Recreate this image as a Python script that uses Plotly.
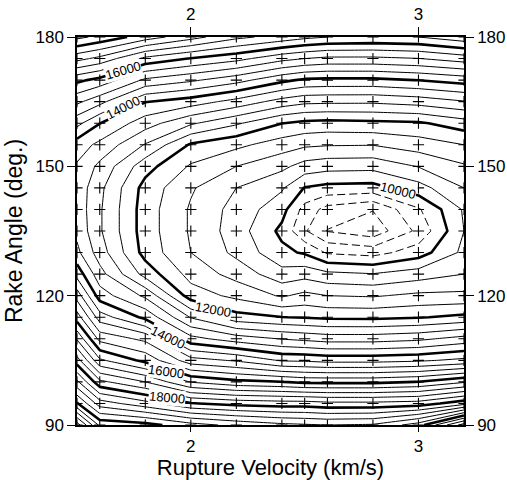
import plotly.graph_objects as go

# Grid-search misfit over rupture velocity and rake angle
velocity = [1.5, 1.6, 1.8, 2.0, 2.2, 2.4, 2.5, 2.6, 2.8, 3.0, 3.2]   # km/s
rake = [90, 95, 100, 105, 110, 115, 120, 125, 130, 135,
        140, 145, 150, 155, 160, 165, 170, 175, 180]                  # deg.

# misfit[i][j]: rake[i], velocity[j]
misfit = [
    [21800, 20300, 20150, 19750, 19500, 19300, 19250, 19200, 19250, 19800, 21400],  # 90
    [20050, 19000, 18550, 18030, 17860, 17790, 17790, 17710, 17710, 17780, 18250],  # 95
    [18890, 17700, 17200, 16370, 16110, 16010, 15900, 15900, 15900, 16010, 16350],  # 100
    [17780, 16470, 15880, 14960, 14750, 14350, 14330, 14260, 14260, 14330, 14500],  # 105
    [16750, 15470, 15100, 13730, 13400, 13180, 13100, 13020, 13020, 13110, 13350],  # 110
    [15800, 14600, 13900, 12770, 12150, 12010, 11970, 11920, 11910, 11970, 12100],  # 115
    [15020, 13800, 13120, 11800, 11500, 11150, 11310, 11200, 11160, 11290, 11300],  # 120
    [14250, 13350, 12250, 11450, 11050, 10550, 10650, 10500, 10420, 10600, 10800],  # 125
    [13700, 13000, 11850, 11200, 10700, 10100, 9950, 9550, 9450, 9800, 10500],      # 130
    [13500, 12850, 11800, 11150, 10600, 9900, 9250, 8780, 8550, 9300, 10400],       # 135
    [13450, 12850, 11800, 11150, 10650, 10150, 9450, 9050, 8820, 9550, 10450],      # 140
    [13450, 12900, 11850, 11250, 10800, 10450, 9980, 9880, 9850, 10240, 10800],     # 145
    [13550, 13100, 12160, 11550, 11200, 10900, 10640, 10550, 10530, 10820, 11150],  # 150
    [13800, 13500, 12770, 11950, 11700, 11400, 11270, 11230, 11215, 11400, 11600],  # 155
    [14520, 14010, 13380, 12860, 12460, 12010, 11900, 11860, 11900, 11940, 12210],  # 160
    [15290, 14930, 14020, 13800, 13460, 13040, 12900, 12880, 12870, 12970, 13170],  # 165
    [16100, 15870, 15120, 14870, 14550, 14100, 13930, 13900, 13900, 14010, 14170],  # 170
    [17330, 17090, 16300, 15980, 15730, 15330, 15200, 15110, 15110, 15190, 15400],  # 175
    [18500, 18300, 17800, 17350, 16900, 16650, 16500, 16400, 16350, 16400, 16650],  # 180
]

x_ticks = [2, 3]
y_ticks = [90, 120, 150, 180]

# contour annotations: level, velocity, rake, text angle
label_level = [16000, 14000, 10000, 12000, 14000, 16000, 18000]
label_v = [1.703, 1.703, 2.91, 2.096, 1.90, 1.89, 1.895]
label_rake = [172.3, 163.6, 144.4, 116.7, 110.4, 102.3, 96.3]
label_angle = [-16, -27, 14, 10, 26, 8, 5]

FONT = "Liberation Sans, Arial, sans-serif"
INK = "black"

fig = go.Figure()


def contour_set(start, end, size, width, dash="solid"):
    return go.Contour(
        x=velocity, y=rake, z=misfit,
        autocontour=False,
        contours=dict(start=start, end=end, size=size, coloring="none"),
        line=dict(color=INK, width=width, dash=dash, smoothing=0),
        showscale=False, hoverinfo="skip",
    )


# thin contours every 400, skipping the annotated 2000 levels
for offset in (400, 800, 1200, 1600):
    fig.add_trace(contour_set(10000 + offset, 22000, 2000, 1))

# dashed contours inside the minimum
fig.add_trace(contour_set(8800, 9600, 400, 1, dash="8px,4px"))

# thick contours every 2000
fig.add_trace(contour_set(10000, 22000, 2000, 2.6))

# grid-search nodes
gx = [v for r in rake for v in velocity]
gy = [r for r in rake for v in velocity]
fig.add_trace(go.Scatter(
    x=gx, y=gy, mode="markers", hoverinfo="skip", showlegend=False,
    marker=dict(symbol="cross-thin", size=8,
                line=dict(color=INK, width=1.1)),
))
# carrier for the top / right axes
fig.add_trace(go.Scatter(
    x=gx, y=gy, mode="markers", xaxis="x2", yaxis="y2",
    hoverinfo="skip", showlegend=False, marker=dict(opacity=0),
))

for lev, lv, lr, ang in zip(label_level, label_v, label_rake, label_angle):
    fig.add_annotation(
        x=lv, y=lr, xref="x", yref="y", text=str(lev), showarrow=False,
        textangle=ang, bgcolor="white", borderpad=0,
        font=dict(family=FONT, size=13, color=INK),
    )

axis_common = dict(
    showgrid=False, zeroline=False, ticks="outside",
    tickwidth=1.2, tickcolor=INK, showline=True, linecolor=INK,
    linewidth=1.5, tickfont=dict(family=FONT, size=17, color=INK),
    automargin=False,
)

fig.update_layout(
    width=507, height=480,
    margin=dict(l=77, r=43, t=37, b=55),
    paper_bgcolor="white", plot_bgcolor="white",
    showlegend=False,
    xaxis=dict(range=[1.5, 3.2], tickvals=x_ticks, mirror=True, ticklen=5,
               title=dict(text="Rupture Velocity (km/s)",
                          font=dict(family=FONT, size=22, color=INK)),
               **axis_common),
    yaxis=dict(range=[90, 180], tickvals=y_ticks, mirror=True, ticklen=8,
               title=dict(text="Rake Angle (deg.)", standoff=6,
                          font=dict(family=FONT, size=23, color=INK)),
               **axis_common),
    xaxis2=dict(range=[1.5, 3.2], tickvals=x_ticks, overlaying="x",
                side="top", ticklen=8, **axis_common),
    yaxis2=dict(range=[90, 180], tickvals=y_ticks, overlaying="y",
                side="right", ticklen=8, **axis_common),
)

fig.write_html("out.html")
